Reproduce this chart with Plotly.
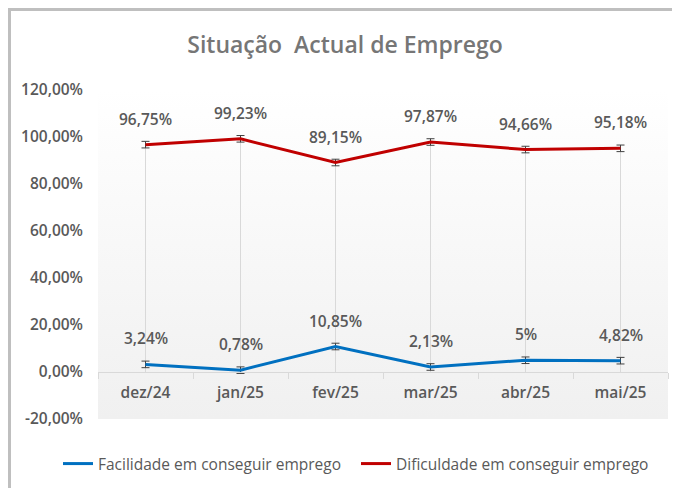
import plotly.graph_objects as go

categories = ["dez/24", "jan/25", "fev/25", "mar/25", "abr/25", "mai/25"]
facilidade = [3.24, 0.78, 10.85, 2.13, 5.00, 4.82]
dificuldade = [96.75, 99.23, 89.15, 97.87, 94.66, 95.18]
facilidade_labels = ["3,24%", "0,78%", "10,85%", "2,13%", "5%", "4,82%"]
dificuldade_labels = ["96,75%", "99,23%", "89,15%", "97,87%", "94,66%", "95,18%"]
erro = [1.4, 1.4, 1.4, 1.4, 1.4, 1.4]
y_ticks = [-20, 0, 20, 40, 60, 80, 100, 120]
y_ticktext = ["-20,00%", "0,00%", "20,00%", "40,00%", "60,00%", "80,00%", "100,00%", "120,00%"]

FONT = "Open Sans"
GREY = "#595959"

OFF = 8  # page body margin
W, H = 680, 488
L, R, T, B = 98 - OFF, 680 - 668 + OFF, 90 - OFF, 488 - 419 + OFF
pw, ph = W - L - R, H - T - B

def px_x(p):  # page px -> paper
    return (p - OFF - L) / pw

def px_y(p):
    return (H - B - (p - OFF)) / ph

fig = go.Figure()

# gradient background of plot area (on hidden helper axes)
fig.add_trace(go.Scatter(
    x=[0, 1, 1, 0, 0], y=[0, 0, 1, 1, 0], xaxis="x", yaxis="y",
    mode="lines", line=dict(width=0), fill="toself",
    fillgradient=dict(type="vertical", colorscale=[[0, "#f0f0f0"], [1, "#ffffff"]]),
    hoverinfo="skip", showlegend=False))

# drop lines
dx, dy = [], []
for c, v in zip(categories, dificuldade):
    dx += [c, c, None]
    dy += [0, v, None]
fig.add_trace(go.Scatter(x=dx, y=dy, xaxis="x2", yaxis="y2", mode="lines",
                         line=dict(color="#d9d9d9", width=1),
                         hoverinfo="skip", showlegend=False))

fig.add_trace(go.Scatter(
    x=categories, y=facilidade, xaxis="x2", yaxis="y2", mode="lines",
    name="Facilidade em conseguir emprego", legend="legend",
    line=dict(color="#0070c0", width=3),
    error_y=dict(type="data", array=erro, color="#404040", thickness=1, width=4)))
fig.add_trace(go.Scatter(
    x=categories, y=dificuldade, xaxis="x2", yaxis="y2", mode="lines",
    name="Dificuldade em conseguir emprego", legend="legend2",
    line=dict(color="#c00000", width=3),
    error_y=dict(type="data", array=erro, color="#404040", thickness=1, width=4)))

annotations = []
for c, v, t in list(zip(categories, facilidade, facilidade_labels)) + list(zip(categories, dificuldade, dificuldade_labels)):
    annotations.append(dict(x=c, y=v, xref="x2", yref="y2", text=t, showarrow=False,
                            yshift=26, font=dict(family=FONT, size=15.5, color=GREY, weight=600)))

leg_common = dict(orientation="h", xanchor="left", xref="container",
                  y=1 - (464 - OFF) / H, yanchor="middle", yref="container",
                  font=dict(family=FONT, size=15.5, color=GREY), itemwidth=30,
                  bgcolor="rgba(0,0,0,0)")

fig.update_layout(
    width=W, height=H,
    margin=dict(l=L, r=R, t=T, b=B, autoexpand=False),
    paper_bgcolor="white", plot_bgcolor="rgba(0,0,0,0)",
    title=dict(text="Situação  Actual de Emprego", x=(345 - OFF) / W, xanchor="center",
               y=1 - (45 - OFF) / H, yanchor="middle", automargin=False,
               font=dict(family=FONT, size=23, color="#767676", weight=600)),
    xaxis=dict(range=[0, 1], visible=False, domain=[0, 1], fixedrange=True, automargin=False),
    yaxis=dict(range=[0, 1], visible=False, domain=[0, 1], fixedrange=True, automargin=False),
    xaxis2=dict(domain=[0, 1], anchor="free", position=20 / 140, type="category",
                categoryorder="array", categoryarray=categories,
                range=[-0.5, 5.5], automargin=False,
                showline=True, linecolor="#d9d9d9", linewidth=1,
                ticks="outside", tickson="boundaries", ticklen=6, tickcolor="#d9d9d9",
                showgrid=False, zeroline=False, ticklabelstandoff=6,
                tickfont=dict(family=FONT, size=15.5, color=GREY, weight=600)),
    yaxis2=dict(domain=[0, 1], anchor="x2", range=[-20, 120], tickvals=y_ticks,
                ticktext=y_ticktext, showgrid=False, zeroline=False, showline=False,
                ticks="", ticklabelstandoff=14, automargin=False,
                tickfont=dict(family=FONT, size=15.5, color=GREY, weight=600)),
    legend=dict(x=(58 - OFF) / W, **leg_common),
    legend2=dict(x=(356 - OFF) / W, **leg_common),
    annotations=annotations,
    shapes=[dict(type="rect", xref="paper", yref="paper",
                 x0=px_x(OFF + 1), x1=px_x(720), y0=px_y(530), y1=px_y(OFF + 1),
                 line=dict(color="#bfbfbf", width=4), fillcolor="rgba(0,0,0,0)", layer="above")],
    showlegend=True,
)

fig.write_html("out.html")
